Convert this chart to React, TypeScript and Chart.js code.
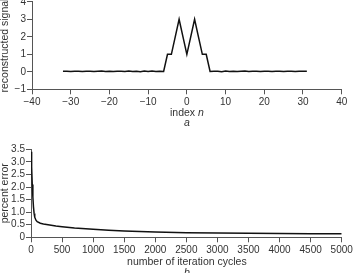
import React, { useEffect, useRef } from "react";
import { Chart, registerables } from "chart.js";

Chart.register(...registerables);

// ---- Data: panel a (reconstructed signal) ----
const signalIndex: number[] = [];
for (let n = -32; n <= 31; n++) signalIndex.push(n);
const signalValues = [
  0.03, 0.03, 0.02, 0.03, 0.03, 0.02, 0.03, 0.03, 0.02, 0.03, 0.04, 0.02, 0.03,
  0.02, 0.03, 0.03, 0.02, 0.04, 0.02, 0.03, 0.01, 0.04, 0.02, 0.05, 0.02, 0.03,
  0.02, 1, 1, 2, 3, 2, 1, 2, 3, 2, 1, 1, 0.02,
  0.03, 0.03, 0.01, 0.04, 0.02, 0.03, 0.02, 0.03, 0.04, 0.02, 0.03, 0.03, 0.02,
  0.03, 0.03, 0.02, 0.03, 0.03, 0.02, 0.03, 0.03, 0.02, 0.03, 0.03, 0.03,
];
const signalXTicks = [-40, -30, -20, -10, 0, 10, 20, 30, 40];
const signalYTicks = [-1, 0, 1, 2, 3, 4];

// ---- Data: panel b (percent error) ----
const iterCycles = [
  0, 10, 20, 30, 40, 50, 60, 80, 100, 150, 200, 300, 400, 500, 700, 1000, 1250,
  1500, 2000, 2500, 3000, 3500, 4000, 4500, 5000,
];
const percentError = [
  3.4, 2.8, 2.1, 1.6, 1.2, 0.95, 0.8, 0.68, 0.62, 0.56, 0.53, 0.49, 0.45, 0.42,
  0.37, 0.32, 0.28, 0.25, 0.21, 0.18, 0.17, 0.16, 0.15, 0.145, 0.14,
];
const errorXTicks = [0, 500, 1000, 1500, 2000, 2500, 3000, 3500, 4000, 4500, 5000];
const errorYTicks = [0, 0.5, 1.0, 1.5, 2.0, 2.5, 3.0, 3.5];

const FONT = "'Liberation Sans', Arial, Helvetica, sans-serif";
const AXIS = "#555";
const TEXT = "#333";

function axisBase(ticksArr: number[], fmt: (v: number) => string, pad: number) {
  return {
    type: "linear" as const,
    min: ticksArr[0],
    max: ticksArr[ticksArr.length - 1],
    afterBuildTicks: (s: any) => {
      s.ticks = ticksArr.map((v) => ({ value: v }));
    },
    border: { display: true, color: AXIS, width: 1 },
    grid: {
      display: true,
      drawOnChartArea: false,
      drawTicks: true,
      tickLength: 5,
      color: AXIS,
      lineWidth: 1,
    },
    ticks: {
      autoSkip: false,
      maxRotation: 0,
      padding: pad,
      color: TEXT,
      font: { family: FONT, size: 10 },
      callback: (v: any) => fmt(Number(v)),
    },
  };
}

const minusFmt = (v: number) => String(v).replace("-", "\u2212");

function makeChart(
  canvas: HTMLCanvasElement,
  xs: number[],
  ys: number[],
  xTicks: number[],
  yTicks: number[],
  xFmt: (v: number) => string,
  yFmt: (v: number) => string,
  yTitle: string,
  yWidth: number,
  xHeight: number,
  padTop: number,
  padRight: number
) {
  const xAxis: any = axisBase(xTicks, xFmt, 2);
  xAxis.afterFit = (s: any) => {
    s.height = xHeight;
    s.paddingLeft = 0;
    s.paddingRight = 0;
    s.paddingTop = 0;
    s.paddingBottom = 0;
  };
  const yAxis: any = axisBase(yTicks, yFmt, 1);
  yAxis.afterFit = (s: any) => {
    s.width = yWidth;
    s.paddingLeft = 0;
    s.paddingRight = 0;
    s.paddingTop = 0;
    s.paddingBottom = 0;
  };
  yAxis.title = {
    display: true,
    text: yTitle,
    color: TEXT,
    font: { family: FONT, size: 10.5, lineHeight: 1 },
    padding: { top: 0, bottom: 0 },
  };
  return new Chart(canvas, {
    type: "line",
    data: {
      datasets: [
        {
          data: xs.map((x, i) => ({ x, y: ys[i] })),
          borderColor: "#111",
          borderWidth: 1.5,
          pointRadius: 0,
          tension: 0,
          fill: false,
        },
      ],
    },
    options: {
      animation: false,
      responsive: false,
      devicePixelRatio: 1,
      layout: { padding: { top: padTop, right: padRight, left: 0, bottom: 0 } },
      plugins: { legend: { display: false }, tooltip: { enabled: false } },
      scales: { x: xAxis, y: yAxis },
    },
  });
}

export default function App() {
  const topRef = useRef<HTMLCanvasElement>(null);
  const botRef = useRef<HTMLCanvasElement>(null);

  useEffect(() => {
    const c1 = makeChart(
      topRef.current!,
      signalIndex,
      signalValues,
      signalXTicks,
      signalYTicks,
      minusFmt,
      minusFmt,
      "reconstructed signal",
      32,
      110 - 89.3,
      1.8,
      11.3
    );
    const c2 = makeChart(
      botRef.current!,
      iterCycles,
      percentError,
      errorXTicks,
      errorYTicks,
      (v) => String(v),
      (v) => (v === 0 ? "0" : v.toFixed(1)),
      "percent error",
      31,
      143 - 107.3,
      19.3,
      11.3
    );
    return () => {
      c1.destroy();
      c2.destroy();
    };
  }, []);

  const label: React.CSSProperties = {
    position: "absolute",
    left: 86.9,
    width: 200,
    textAlign: "center",
    fontFamily: FONT,
    fontSize: 10.5,
    lineHeight: "12px",
    color: TEXT,
    whiteSpace: "nowrap",
  };

  return (
    <div
      style={{
        position: "fixed",
        left: 0,
        top: 0,
        width: 353,
        height: 273,
        overflow: "hidden",
        background: "#fff",
      }}
    >
      <canvas
        ref={topRef}
        width={353}
        height={110}
        style={{ position: "absolute", left: 0, top: 0, width: 353, height: 110 }}
      />
      <canvas
        ref={botRef}
        width={353}
        height={143}
        style={{ position: "absolute", left: 0, top: 130, width: 353, height: 143 }}
      />
      <div style={{ ...label, top: 106 }}>
        index <i>n</i>
      </div>
      <div style={{ ...label, top: 116 }}>
        <i>a</i>
      </div>
      <div style={{ ...label, top: 254.7 }}>number of iteration cycles</div>
      <div style={{ ...label, top: 266 }}>
        <i>b</i>
      </div>
    </div>
  );
}
